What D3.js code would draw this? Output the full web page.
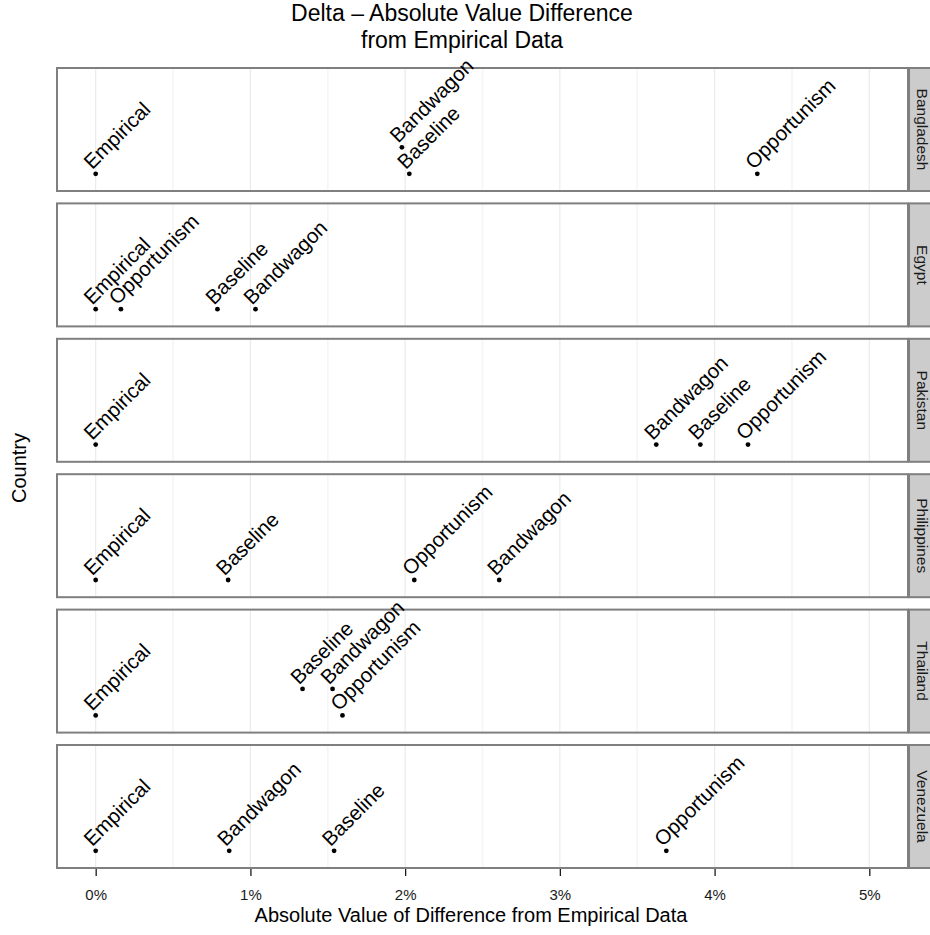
<!DOCTYPE html>
<html>
<head>
<meta charset="utf-8">
<script src="https://cdn.jsdelivr.net/npm/d3@7"></script>
<style>
  body { margin: 0; background: #fff; }
  svg { display: block; font-family: "Liberation Sans", Arial, Helvetica, sans-serif; }
</style>
</head>
<body>
<svg id="chart" width="930" height="935"></svg>
<script>
// Countries (one facet each) and model names
const countries = ["Bangladesh", "Egypt", "Pakistan", "Philippines", "Thailand", "Venezuela"];
const models = ["Empirical", "Baseline", "Bandwagon", "Opportunism"];

// Absolute difference from empirical data, in percent, per country
const empirical   = [0, 0, 0, 0, 0, 0];
const baseline    = [2.027, 0.787, 3.908, 0.856, 1.337, 1.541];
const bandwagon   = [1.979, 1.033, 3.623, 2.608, 1.531, 0.863];
const opportunism = [4.276, 0.163, 4.216, 2.059, 1.595, 3.688];

// Vertical row of each point inside its facet (lifts overlapping labels)
const empiricalRow   = [0, 0, 0, 0, 0, 0];
const baselineRow    = [0, 0, 0, 0, 1, 0];
const bandwagonRow   = [1, 0, 0, 0, 1, 0];
const opportunismRow = [0, 0, 0, 0, 0, 0];

// Axis ticks
const xTicks = [0, 1, 2, 3, 4, 5];
const xMinorTicks = [0.5, 1.5, 2.5, 3.5, 4.5];

const titleLines = ["Delta \u2013 Absolute Value Difference", "from Empirical Data"];
const xTitle = "Absolute Value of  Difference from Empirical Data";
const yTitle = "Country";

// Long-format rows built from the arrays above
const valueSeries = { Empirical: empirical, Baseline: baseline, Bandwagon: bandwagon, Opportunism: opportunism };
const rowSeries = { Empirical: empiricalRow, Baseline: baselineRow, Bandwagon: bandwagonRow, Opportunism: opportunismRow };
const rows = [];
countries.forEach((c, i) => {
  models.forEach(m => rows.push({ country: c, model: m, value: valueSeries[m][i], row: rowSeries[m][i] }));
});

const svg = d3.select("#chart");
const panelLeft = 57, panelRight = 908, panelTop = 68, panelBottom = 868;
const stripWidth = 26;

const x = d3.scaleLinear().domain([-0.25, 5.25]).range([panelLeft, panelRight]);
const facet = d3.scaleBand().domain(countries).range([panelTop, panelBottom]).paddingInner(0.0916).paddingOuter(0);
const y = d3.scaleLinear().domain([-0.65, 4]).range([facet.bandwidth(), 0]);

const gridMajor = "#ebebeb", gridMinor = "#f5f5f5", borderCol = "#7f7f7f";

// Title
svg.append("g").selectAll("text").data(titleLines).join("text")
  .attr("x", 462).attr("y", (d, i) => 21 + i * 26.5)
  .attr("text-anchor", "middle").attr("font-size", 23).attr("fill", "#000")
  .text(d => d);

// Facet panels
const panels = svg.append("g").selectAll("g.panel").data(countries).join("g")
  .attr("class", "panel")
  .attr("transform", d => `translate(0,${facet(d)})`);

panels.append("rect")
  .attr("x", panelLeft).attr("y", 0)
  .attr("width", panelRight - panelLeft).attr("height", facet.bandwidth())
  .attr("fill", "#fff");

panels.each(function () {
  const g = d3.select(this);
  g.selectAll("line.minor").data(xMinorTicks).join("line")
    .attr("class", "minor")
    .attr("x1", d => x(d)).attr("x2", d => x(d))
    .attr("y1", 0).attr("y2", facet.bandwidth())
    .attr("stroke", gridMinor).attr("stroke-width", 1.6);
  g.selectAll("line.major").data(xTicks).join("line")
    .attr("class", "major")
    .attr("x1", d => x(d)).attr("x2", d => x(d))
    .attr("y1", 0).attr("y2", facet.bandwidth())
    .attr("stroke", gridMajor).attr("stroke-width", 1.2);
});

// Panel borders
panels.append("rect")
  .attr("x", panelLeft).attr("y", 0)
  .attr("width", panelRight - panelLeft).attr("height", facet.bandwidth())
  .attr("fill", "none").attr("stroke", borderCol).attr("stroke-width", 2);

// Points and labels
panels.each(function (c) {
  const g = d3.select(this);
  const data = rows.filter(r => r.country === c);
  g.selectAll("circle").data(data).join("circle")
    .attr("cx", d => x(d.value)).attr("cy", d => y(d.row))
    .attr("r", 2.4).attr("fill", "#000");
  g.selectAll("text.lab").data(data).join("text")
    .attr("class", "lab")
    .attr("transform", d => `translate(${x(d.value)},${y(d.row)}) rotate(-45)`)
    .attr("x", 0).attr("y", -5)
    .attr("font-size", 20.5).attr("fill", "#000")
    .text(d => d.model);
});

// Strips on the right
const strips = svg.append("g").selectAll("g.strip").data(countries).join("g")
  .attr("class", "strip")
  .attr("transform", d => `translate(${panelRight},${facet(d)})`);
strips.append("rect")
  .attr("x", 1).attr("y", 0).attr("width", stripWidth).attr("height", facet.bandwidth())
  .attr("fill", "#cccccc").attr("stroke", borderCol).attr("stroke-width", 2);
strips.append("text")
  .attr("transform", `translate(${stripWidth / 2 + 1},${facet.bandwidth() / 2}) rotate(90)`)
  .attr("text-anchor", "middle").attr("dy", "0.35em")
  .attr("font-size", 15.5).attr("fill", "#1a1a1a")
  .text(d => d);

// X axis
const xAxis = d3.axisBottom(x)
  .tickValues(xTicks)
  .tickFormat(d => d + "%")
  .tickSize(7)
  .tickPadding(13);
const axisG = svg.append("g").attr("transform", `translate(0,${panelBottom + 1})`).call(xAxis);
axisG.select(".domain").remove();
axisG.selectAll(".tick line").attr("stroke", "#1a1a1a").attr("stroke-width", 1.3);
axisG.selectAll(".tick text")
  .attr("font-family", "Liberation Sans, Arial, Helvetica, sans-serif")
  .attr("font-size", 15).attr("fill", "#1a1a1a");

// Axis titles
svg.append("text")
  .attr("x", 471).attr("y", 922)
  .attr("text-anchor", "middle").attr("font-size", 20).attr("fill", "#000")
  .text(xTitle);

svg.append("text")
  .attr("transform", `translate(26,${(panelTop + panelBottom) / 2}) rotate(-90)`)
  .attr("text-anchor", "middle").attr("font-size", 20).attr("fill", "#000")
  .text(yTitle);
</script>
</body>
</html>
